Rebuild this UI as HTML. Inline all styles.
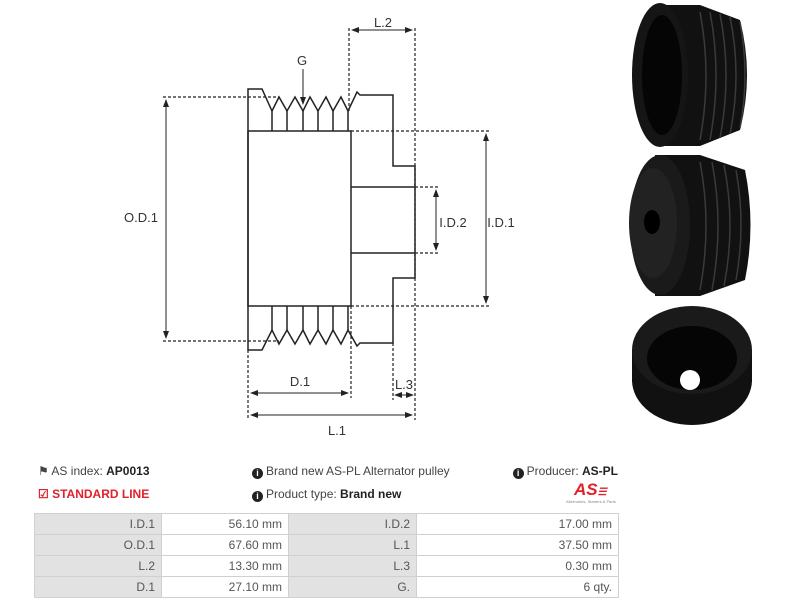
<!DOCTYPE html>
<html><head><meta charset="utf-8"><style>
body{margin:0;width:788px;height:600px;background:#fff;position:relative;overflow:hidden;font-family:"Liberation Sans",sans-serif}
.t{position:absolute;font-size:12px;color:#444;white-space:nowrap}
.i{display:inline-block;width:11px;height:11px;border-radius:50%;background:#222;color:#fff;font-size:9px;font-weight:bold;text-align:center;line-height:11px;vertical-align:-1px;margin-right:3px}
table{position:absolute;left:34px;top:513px;width:584px;border-collapse:collapse;font-size:12px;color:#555;table-layout:fixed}
td{border:1px solid #d0d0d0;height:20px;padding:0 6px;text-align:right}
td.l{background:#e2e2e2}
</style></head><body>
<svg width="788" height="460" style="position:absolute;left:0;top:0" font-family="Liberation Sans, sans-serif">
<defs><marker id="a" markerWidth="8" markerHeight="8" refX="7" refY="4" orient="auto-start-reverse"><path d="M0,1 L8,4 L0,7z" fill="#222"/></marker></defs>
<g stroke="#222" stroke-width="1.2" stroke-dasharray="3,2" fill="none">
<path d="M163,97H279M163,341H279M349,28V111M415,28V420M351,131H490M351,306H490M415,187H439M415,253H439M248,350V420M351,306V398M393,343V400"/>
</g>
<g stroke="#222" stroke-width="1.5" fill="none">
<path d="M248,89H262L272,111L279,97L287,111L295,97L303,111L310,97L318,111L326,97L333,111L341,97L348,111L357,92L360,95H393V166H415V278H393V343H360L357,346L348,330L341,344L333,330L326,344L318,330L310,344L303,330L295,344L287,330L279,344L272,330L262,350H248Z"/>
<rect x="248" y="131" width="103" height="175"/>
<path d="M351,187H415M351,253H415M272,111V131M287,111V131M303,111V131M318,111V131M333,111V131M348,111V131M272,306V330M287,306V330M303,306V330M318,306V330M333,306V330M348,306V330"/>
</g>
<g stroke="#222" stroke-width="1" fill="none">
<line x1="166" y1="100" x2="166" y2="338" marker-start="url(#a)" marker-end="url(#a)"/>
<line x1="352" y1="30" x2="412" y2="30" marker-start="url(#a)" marker-end="url(#a)"/>
<line x1="486" y1="134" x2="486" y2="303" marker-start="url(#a)" marker-end="url(#a)"/>
<line x1="436" y1="190" x2="436" y2="250" marker-start="url(#a)" marker-end="url(#a)"/>
<line x1="251" y1="393" x2="348" y2="393" marker-start="url(#a)" marker-end="url(#a)"/>
<line x1="395" y1="395" x2="413" y2="395" marker-start="url(#a)" marker-end="url(#a)"/>
<line x1="251" y1="415" x2="412" y2="415" marker-start="url(#a)" marker-end="url(#a)"/>
<line x1="303" y1="69" x2="303" y2="104" marker-end="url(#a)"/>
</g>
<g font-size="13" fill="#333" text-anchor="middle">
<text x="302" y="65">G</text><text x="383" y="27">L.2</text><text x="141" y="222">O.D.1</text>
<text x="453" y="227">I.D.2</text><text x="501" y="227">I.D.1</text><text x="300" y="386">D.1</text>
<text x="404" y="389">L.3</text><text x="337" y="435">L.1</text>
</g>
<g>
<path d="M660,5 L700,5 L740,20 Q754,75 740,130 L700,146 L660,146Z" fill="#111"/>
<g stroke="#3a3a3a" stroke-width="1.5" fill="none"><path d="M700,12Q712,75 700,140M710,12Q722,75 710,140M720,14Q732,75 720,138M730,17Q742,75 730,134M740,22Q750,75 740,128"/></g>
<ellipse cx="660" cy="75" rx="28" ry="72" fill="#151515"/><ellipse cx="662" cy="75" rx="20" ry="60" fill="#050505"/>
<path d="M655,155 L700,155 L745,170 Q756,225 745,280 L700,296 L655,296Z" fill="#111"/>
<g stroke="#3a3a3a" stroke-width="1.5" fill="none"><path d="M700,162Q712,225 700,290M712,162Q724,225 712,290M724,165Q736,225 724,286M736,170Q746,225 736,280"/></g>
<ellipse cx="660" cy="225" rx="30" ry="70" fill="#1a1a1a"/><ellipse cx="653" cy="223" rx="24" ry="55" fill="#222"/><ellipse cx="652" cy="222" rx="8" ry="12" fill="#000"/>
<ellipse cx="692" cy="380" rx="60" ry="45" fill="#111"/><rect x="632" y="350" width="120" height="32" fill="#111"/>
<ellipse cx="692" cy="350" rx="60" ry="44" fill="#1a1a1a"/><ellipse cx="692" cy="358" rx="45" ry="32" fill="#050505"/>
<circle cx="690" cy="380" r="10" fill="#fff"/>
</g>
</svg>
<div class="t" style="left:38px;top:464px">&#9873; AS index: <b style="color:#222">AP0013</b></div>
<div class="t" style="left:38px;top:487px;color:#e0202a;font-weight:bold">&#9745; STANDARD LINE</div>
<div class="t" style="left:252px;top:464px"><span class="i">i</span>Brand new AS-PL Alternator pulley</div>
<div class="t" style="left:252px;top:487px"><span class="i">i</span>Product type: <b style="color:#222">Brand new</b></div>
<div class="t" style="right:170px;top:464px"><span class="i">i</span>Producer: <b style="color:#222">AS-PL</b></div>
<div class="t" style="left:574px;top:480px;color:#e0202a;font-weight:bold;font-style:italic;font-size:17px">AS<span style="font-size:10px">&#9776;</span></div>
<div class="t" style="left:566px;top:499px;font-size:4px;color:#888">Alternators, Starters &amp; Parts</div>
<table>
<colgroup><col style="width:127px"><col style="width:127px"><col style="width:128px"><col style="width:202px"></colgroup>
<tr><td class="l">I.D.1</td><td>56.10 mm</td><td class="l">I.D.2</td><td>17.00 mm</td></tr>
<tr><td class="l">O.D.1</td><td>67.60 mm</td><td class="l">L.1</td><td>37.50 mm</td></tr>
<tr><td class="l">L.2</td><td>13.30 mm</td><td class="l">L.3</td><td>0.30 mm</td></tr>
<tr><td class="l">D.1</td><td>27.10 mm</td><td class="l">G.</td><td>6 qty.</td></tr>
</table>
</body></html>
